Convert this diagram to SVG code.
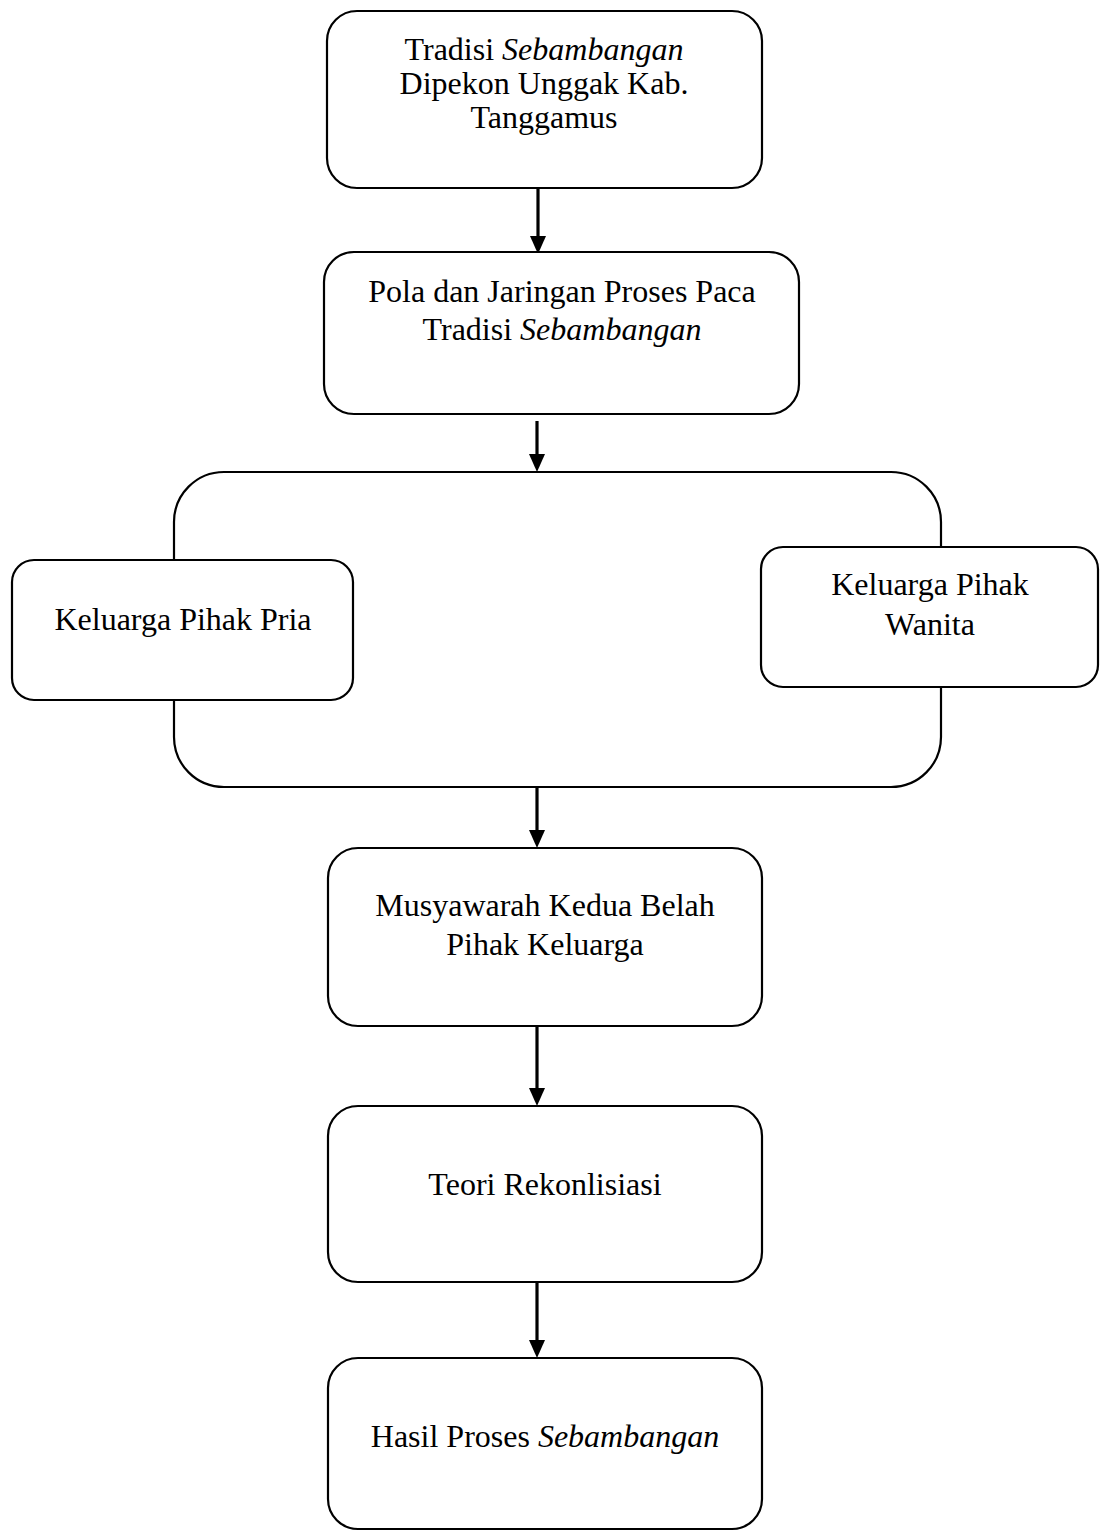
<svg xmlns="http://www.w3.org/2000/svg" width="1100" height="1532" viewBox="0 0 1100 1532">
<defs>
<style>
.box{fill:#fff;stroke:#000;stroke-width:2.2}
.t{font-family:"Liberation Serif","Times New Roman",serif;font-size:32px;fill:#000;text-anchor:middle}
.i{font-style:italic}
.c{stroke:#000;stroke-width:3.2;fill:none}
</style>
<marker id="ah" viewBox="0 0 18 16" refX="6" refY="8" markerWidth="18" markerHeight="16" markerUnits="userSpaceOnUse" orient="auto">
<path d="M0,0 L18,8 L0,16 z" fill="#000"/>
</marker>
</defs>
<rect width="1100" height="1532" fill="#fff"/>
<g id="node-group">
<rect class="box" x="174" y="472" width="767" height="315" rx="50" ry="50"/>
</g>
<g id="connectors">
<line class="c" x1="538" y1="188" x2="538" y2="242" marker-end="url(#ah)"/>
<line class="c" x1="537" y1="421" x2="537" y2="460" marker-end="url(#ah)"/>
<line class="c" x1="537" y1="787" x2="537" y2="836" marker-end="url(#ah)"/>
<line class="c" x1="537" y1="1026" x2="537" y2="1094" marker-end="url(#ah)"/>
<line class="c" x1="537" y1="1282" x2="537" y2="1346" marker-end="url(#ah)"/>
</g>
<g id="n1">
<rect class="box" x="327" y="11" width="435" height="177" rx="30" ry="30"/>
<text class="t" x="544" y="60">Tradisi <tspan class="i">Sebambangan</tspan></text>
<text class="t" x="544" y="94">Dipekon Unggak Kab.</text>
<text class="t" x="544" y="128">Tanggamus</text>
</g>
<g id="n2">
<rect class="box" x="324" y="252" width="475" height="162" rx="30" ry="30"/>
<text class="t" x="562" y="302">Pola dan Jaringan Proses Paca</text>
<text class="t" x="562" y="340">Tradisi <tspan class="i">Sebambangan</tspan></text>
</g>
<g id="n3">
<rect class="box" x="12" y="560" width="341" height="140" rx="22" ry="22"/>
<text class="t" x="183" y="630">Keluarga Pihak Pria</text>
</g>
<g id="n4">
<rect class="box" x="761" y="547" width="337" height="140" rx="22" ry="22"/>
<text class="t" x="930" y="595">Keluarga Pihak</text>
<text class="t" x="930" y="635">Wanita</text>
</g>
<g id="n5">
<rect class="box" x="328" y="848" width="434" height="178" rx="30" ry="30"/>
<text class="t" x="545" y="916">Musyawarah Kedua Belah</text>
<text class="t" x="545" y="955">Pihak Keluarga</text>
</g>
<g id="n6">
<rect class="box" x="328" y="1106" width="434" height="176" rx="30" ry="30"/>
<text class="t" x="545" y="1195">Teori Rekonlisiasi</text>
</g>
<g id="n7">
<rect class="box" x="328" y="1358" width="434" height="171" rx="30" ry="30"/>
<text class="t" x="545" y="1447">Hasil Proses <tspan class="i">Sebambangan</tspan></text>
</g>
</svg>
